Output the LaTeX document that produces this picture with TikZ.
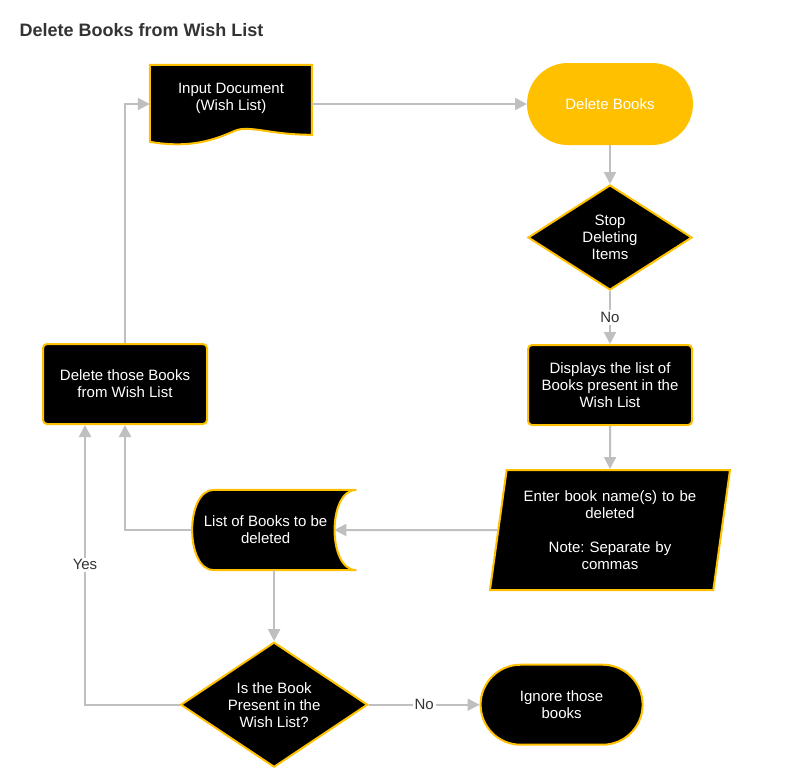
\documentclass[tikz,border=0pt]{standalone}
\usepackage{fontspec}
\setmainfont{Liberation Sans}
\usepackage{xcolor}
\usepackage{tikz}
\usetikzlibrary{shapes,arrows.meta,positioning,backgrounds}
\definecolor{accent}{RGB}{255, 192, 0}
\definecolor{wire}{RGB}{191, 191, 191}
\definecolor{ink}{RGB}{51, 51, 51}

\begin{document}
\frenchspacing
\begin{tikzpicture}[x=1pt, y=-1pt,
    every node/.style={font=\fontsize{15pt}{17pt}\selectfont, text=white, align=center},
    box/.style={rectangle, draw=accent, fill=black, line width=2pt, rounded corners=4pt, minimum width=164pt, minimum height=80pt, inner sep=2pt},
    terminal/.style={rectangle, draw=accent, fill=black, line width=2pt, rounded corners=40pt, minimum width=162pt, minimum height=80pt},
    decision/.style={diamond, draw=accent, fill=black, line width=2pt, inner sep=0pt, aspect=1.5},
    inout/.style={trapezium, trapezium left angle=79, trapezium right angle=101, trapezium stretches body, draw=accent, fill=black, line width=2pt, minimum width=240pt, minimum height=120pt},
    bare/.style={rectangle, inner sep=0pt},
    outline/.style={draw=accent, fill=black, line width=2pt},
    flow/.style={draw=wire, line width=2pt, -{Triangle[length=12pt,width=12pt]}},
    lbl/.style={fill=white, text=ink, inner sep=2pt},
    title/.style={font=\fontsize{18pt}{21pt}\selectfont\bfseries, text=ink}
]
    \useasboundingbox (0,0) rectangle (793,780);

    \node[title, anchor=west] (title) at (16,30) {Delete Books from Wish List};

    \node[terminal, fill=accent, minimum width=164pt] (del) at (610,104) {Delete Books};
    \node[decision, minimum width=164pt, minimum height=105pt, below=39pt of del] (stop) {Stop\\Deleting\\Items};
    \node[box, below=53pt of stop] (show) {Displays the list of\\Books present in the\\Wish List};
    \node[inout, text width=180pt, below=43pt of show] (enter) {Enter book name(s) to be\\deleted\\[17pt]Note: Separate by\\commas};
    \node[bare, minimum width=164pt, minimum height=80pt, left=141pt of enter] (store) {List of Books to be\hspace*{17pt}\\deleted\hspace*{17pt}};
    \node[decision, minimum width=187pt, minimum height=125pt, below=71pt of store] (ask) {Is the Book\\Present in the\\Wish List?};
    \node[terminal, right=111pt of ask] (ignore) {Ignore those\\books};
    \node[box] (remove) at (125,384) {Delete those Books\\from Wish List};
    \node[bare, minimum width=162pt, minimum height=66pt] (doc) at (231,98) {Input Document\\(Wish List)};

    \begin{scope}[on background layer]
        \draw[outline] ([xshift=22pt]store.north west) -- (store.north east)
            .. controls ([xshift=-29pt]store.north east) and ([xshift=-29pt]store.south east) .. (store.south east)
            -- ([xshift=22pt]store.south west)
            .. controls ([xshift=-7pt]store.south west) and ([xshift=-7pt]store.north west) .. ([xshift=22pt]store.north west) -- cycle;
        \draw[outline, shift={(doc.north west)}] (0,0) -- (162,0) -- (162,70)
            .. controls (120,70) and (100,60) .. (85,66)
            .. controls (65,75) and (40,84) .. (0,77) -- cycle;
    \end{scope}

    \draw[flow] (doc.east |- del.west) -- (del.west);
    \draw[flow] (del) -- (stop);
    \draw[flow] (stop) -- node[lbl] {No} (show);
    \draw[flow] (show) -- (enter);
    \draw[flow] (enter) -- ([xshift=-22pt]store.east);
    \draw[flow] (store.west) -| (remove.south);
    \draw[flow] (store) -- (ask);
    \draw[flow] (ask) -- node[lbl] {No} (ignore);
    \draw[flow] (ask.west) -| node[lbl, pos=0.75] {Yes} ([xshift=-40pt]remove.south);
    \draw[flow] (remove.north) |- (doc.west |- del.west);
\end{tikzpicture}
\end{document}
